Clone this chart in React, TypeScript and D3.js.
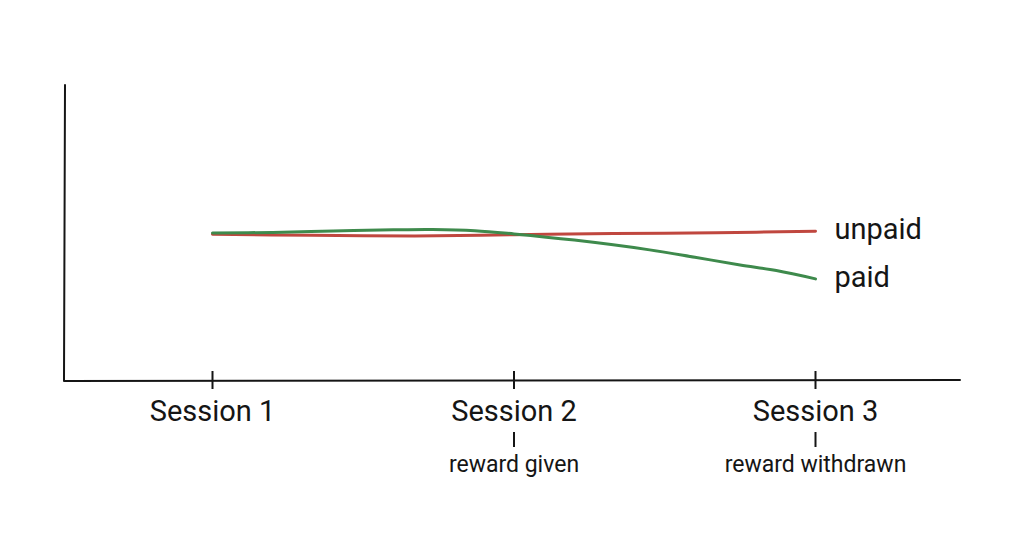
import React from "react";
import * as d3 from "d3";

const sessions = [1, 2, 3];
const sessionLabels = ["Session 1", "Session 2", "Session 3"];
const eventLabels = ["", "reward given", "reward withdrawn"];

const unpaidX = [1, 1.33, 1.67, 2, 2.33, 2.67, 3];
const unpaidY = [49.6, 49.2, 49.0, 49.4, 49.8, 50.1, 50.6];

const paidX = [1, 1.2, 1.4, 1.6, 1.73, 1.87, 2, 2.2, 2.45, 2.6, 2.75, 2.87, 3];
const paidY = [50.0, 50.2, 50.7, 51.1, 51.2, 50.8, 49.7, 47.6, 44.3, 41.8, 39.2, 37.3, 34.5];

const seriesNames = ["unpaid", "paid"];
const seriesColors = ["#c0473f", "#3e8a4c"];

const W = 1024;
const H = 559;
const FONT = "Roboto, 'Noto Sans', sans-serif";

export default function App() {
  const x = d3.scaleLinear().domain([1, 3]).range([212.5, 815.5]);
  const y = d3.scaleLinear().domain([0, 100]).range([381, 85]);
  const axisLeft = 64;
  const axisRight = 960;
  const axisY = y(0);

  const line = d3
    .line<[number, number]>()
    .x((d) => x(d[0]))
    .y((d) => y(d[1]))
    .curve(d3.curveCatmullRom.alpha(0.5));

  const series = [
    unpaidX.map((v, i) => [v, unpaidY[i]] as [number, number]),
    paidX.map((v, i) => [v, paidY[i]] as [number, number]),
  ];

  const ink = "#151515";

  return (
    <svg
      width={W}
      height={H}
      style={{ position: "absolute", left: 0, top: 0, background: "#fff" }}
    >
      {/* axes */}
      <path
        d={`M${axisLeft + 1},${y(100)} L${axisLeft},${axisY} L${axisRight},${axisY - 1}`}
        fill="none"
        stroke={ink}
        strokeWidth={2}
        strokeLinejoin="round"
        strokeLinecap="round"
      />
      {/* ticks and labels */}
      {sessions.map((s, i) => (
        <g key={s}>
          <line x1={x(s)} x2={x(s)} y1={axisY - 10} y2={axisY + 8} stroke={ink} strokeWidth={2} />
          <text
            x={x(s)}
            y={421}
            textAnchor="middle"
            fontFamily={FONT}
            fontSize={29}
            fill={ink}
          >
            {sessionLabels[i]}
          </text>
          {eventLabels[i] && (
            <g>
              <line x1={x(s)} x2={x(s)} y1={432} y2={447} stroke={ink} strokeWidth={2} />
              <text
                x={x(s)}
                y={472}
                textAnchor="middle"
                fontFamily={FONT}
                fontSize={23}
                fill={ink}
              >
                {eventLabels[i]}
              </text>
            </g>
          )}
        </g>
      ))}
      {/* series */}
      {series.map((pts, i) => (
        <g key={seriesNames[i]}>
          <path
            d={line(pts) || ""}
            fill="none"
            stroke={seriesColors[i]}
            strokeWidth={3}
            strokeLinecap="round"
          />
          <text
            x={x(pts[pts.length - 1][0]) + 19}
            y={y(pts[pts.length - 1][1]) + 8}
            fontFamily={FONT}
            fontSize={29}
            fill={ink}
          >
            {seriesNames[i]}
          </text>
        </g>
      ))}
    </svg>
  );
}
